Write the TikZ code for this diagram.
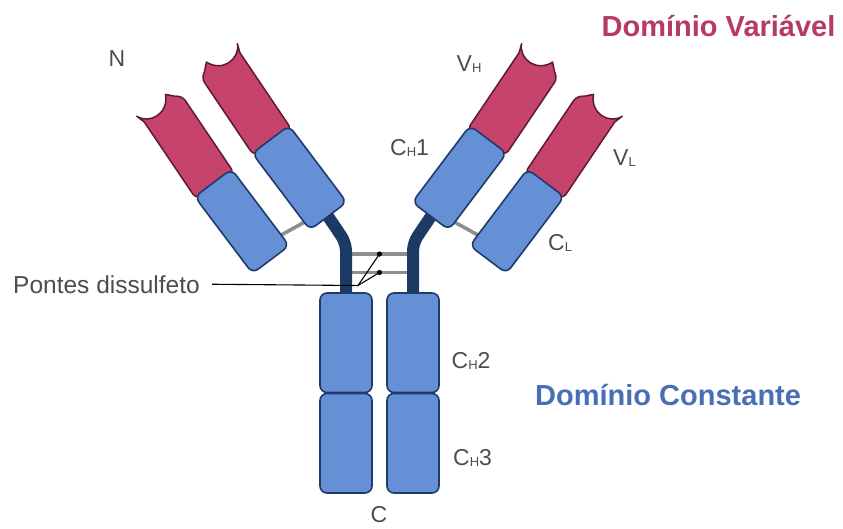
\documentclass[tikz,border=0pt]{standalone}
\usepackage{fontspec}
\setmainfont{Liberation Sans}
\usetikzlibrary{calc,backgrounds}

\definecolor{vfill}{HTML}{C6436B}
\definecolor{vline}{HTML}{5E1A34}
\definecolor{cfill}{HTML}{6690D6}
\definecolor{cline}{HTML}{1E3B6C}
\definecolor{hingec}{HTML}{1B3A64}
\definecolor{ssgray}{HTML}{8A9090}
\definecolor{labelc}{HTML}{4D4D4D}
\definecolor{vtitle}{HTML}{B73A60}
\definecolor{ctitle}{HTML}{4A6EB5}

% small lowered subscript letter for domain names
\newcommand\chsub[1]{\raisebox{-1pt}{\fontsize{13}{13}\selectfont #1}}

\begin{document}
\begin{tikzpicture}[x=1pt,y=1pt,
  cdom/.style={shape=rectangle, draw=cline, fill=cfill, line width=1.6pt,
    rounded corners=7pt, minimum height=46pt, minimum width=96pt,
    inner sep=0pt, outer sep=0pt},
  vdom/.style={draw=vline, fill=vfill, line width=1.5pt, line join=round},
  hinge/.style={draw=hingec, line width=12pt, rounded corners=8pt},
  ssbond/.style={draw=ssgray, line width=3.6pt},
  pointer/.style={draw=black, line width=1.1pt},
  lbl/.style={text=labelc, font=\fontsize{23}{23}\selectfont, inner sep=0pt},
  title/.style={font=\bfseries\fontsize{29}{29}\selectfont, inner sep=0pt},
  vregion/.pic={
    \path[vdom] [rounded corners=6pt] (89,23) -- (-4,23) -- (-4,-23) -- (90,-23)
      [sharp corners] -- (93,-17) -- (100,-10)
      .. controls (82,-2) and (84,20) .. (98,26) -- cycle;
  }
]
\useasboundingbox (0,0) rectangle (843,-528);

% constant domains of the Fc stem
\node[cdom, minimum width=52pt, minimum height=99.5pt] (ch2l) at (346,-342.75) {};
\node[cdom, minimum width=52pt, minimum height=99.5pt] (ch3l) at (346,-443.25) {};
\node[cdom, minimum width=52pt, minimum height=99.5pt] (ch2r) at (413,-342.75) {};
\node[cdom, minimum width=52pt, minimum height=99.5pt] (ch3r) at (413,-443.25) {};

% constant domains of the two Fab arms
\node[cdom, rotate=53] (ch1r) at (459.5,-177.75) {};
\node[cdom, rotate=53] (clr) at (517,-221.25) {};
\node[cdom, rotate=127] (ch1l) at (299.5,-177.75) {};
\node[cdom, rotate=127] (cll) at (242,-221.25) {};

% bends of the hinge
\coordinate (kl) at (346,-243);
\coordinate (kr) at (413,-243);

% disulfide bridge ends on the hinge
\coordinate (sl1) at (346,-254);
\coordinate (sr1) at (413,-254);
\coordinate (sl2) at (346,-272.5);
\coordinate (sr2) at (413,-272.5);
\coordinate (d1) at ($(sl1)!0.5!(sr1)$);
\coordinate (d2) at ($(sl2)!0.5!(sr2)$);
\coordinate (kn) at (358,-285.5);

\begin{pgfonlayer}{background}
  % interchain disulfide bonds
  \draw[ssbond] (sl1) -- (sr1);
  \draw[ssbond] (sl2) -- (sr2);
  \draw[ssbond] ($(ch1r.south west)!0.1!(ch1r.south east)$) -- ($(clr.north west)!0.14!(clr.north east)$);
  \draw[ssbond] ($(ch1l.north west)!0.1!(ch1l.north east)$) -- ($(cll.south west)!0.14!(cll.south east)$);
  % hinge region
  \draw[hinge] ($(ch1l.west)!0.08!(ch1l.east)$) -- (kl) -- ($(ch2l.north)+(0,-6)$);
  \draw[hinge] ($(ch1r.west)!0.08!(ch1r.east)$) -- (kr) -- ($(ch2r.north)+(0,-6)$);
  % variable domains
  \pic[rotate=56] at (ch1r.east) {vregion};
  \pic[rotate=56, yscale=-1] at (clr.east) {vregion};
  \pic[rotate=124, yscale=-1] at (ch1l.east) {vregion};
  \pic[rotate=124] at (cll.east) {vregion};
\end{pgfonlayer}

% pointer to the disulfide bridges
\node[lbl, font=\fontsize{24.5}{24.5}\selectfont, anchor=base east] (ss) at (200,-293) {Pontes dissulfeto};
\draw[pointer] ($(ss.east)+(12,0)$) -- (kn) -- (d1);
\draw[pointer] (kn) -- (d2);
\fill (d1) circle (2.6);
\fill (d2) circle (2.6);

% domain labels
\node[lbl, anchor=base] (nterm) at (117,-66) {N};
\node[lbl, anchor=base] (cterm) at (379,-522.5) {C};
\node[lbl, anchor=base west] (tvh) at (456.5,-71) {V\chsub{H}};
\node[lbl, anchor=base west] (tch1) at (390,-155) {C\chsub{H}1};
\node[lbl, anchor=base west] (tvl) at (613,-165) {V\chsub{L}};
\node[lbl, anchor=base west] (tcl) at (548,-250) {C\chsub{L}};
\node[lbl, anchor=base west] (tch2) at (451.5,-368) {C\chsub{H}2};
\node[lbl, anchor=base west] (tch3) at (453,-465) {C\chsub{H}3};

% region titles
\node[title, text=vtitle, anchor=base west] (varreg) at (601.5,-36) {Domínio Variável};
\node[title, text=ctitle, anchor=base west] (conreg) at (535,-405) {Domínio Constante};
\end{tikzpicture}
\end{document}
